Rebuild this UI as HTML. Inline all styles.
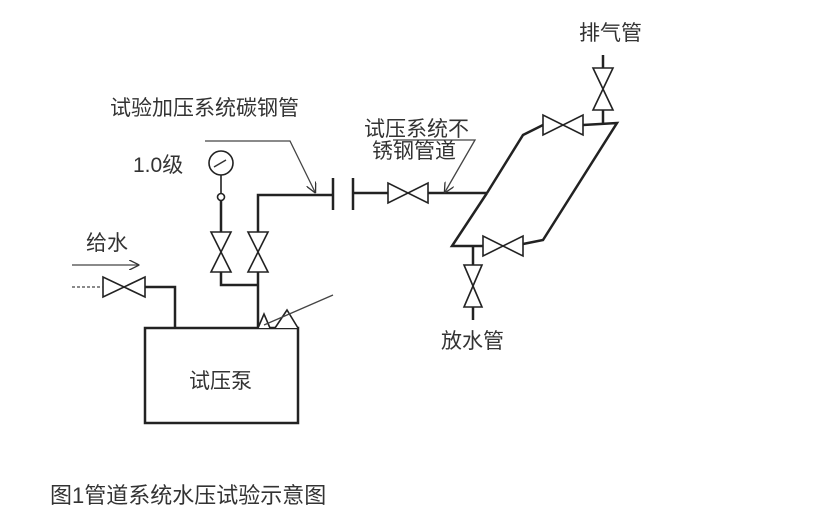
<!DOCTYPE html>
<html><head><meta charset="utf-8"><style>
body{margin:0;background:#fff;}
svg text{font-family:"Liberation Sans","Noto Sans CJK SC",sans-serif;fill:#333;}
</style></head><body>
<svg width="825" height="523" viewBox="0 0 825 523" xmlns="http://www.w3.org/2000/svg">
<defs>
<marker id="ar" markerWidth="8" markerHeight="8" refX="7" refY="4" orient="auto"><path d="M0,0 L8,4 L0,8" fill="none" stroke="#333" stroke-width="1"/></marker>
</defs>
<g fill="none" stroke="#222" stroke-width="2.5">
<rect x="145" y="328" width="153" height="95"/>
<polyline points="145,287 175,287 175,328"/>
<polyline points="258,328 258,272"/>
<polyline points="258,232 258,195 333,195"/>
<polyline points="221,272 221,285 258,285"/>
<line x1="221" y1="232" x2="221" y2="201"/>
<line x1="333" y1="178" x2="333" y2="210"/>
<line x1="353" y1="178" x2="353" y2="210"/>
<polyline points="353,193 388,193"/>
<polyline points="428,193 487,193"/>
<polyline points="487,193 523,135 543,125"/>
<polyline points="487,193 452,246 483,246"/>
<polyline points="523,244 543,240 617,123 583,125"/>
<line x1="603" y1="123" x2="603" y2="110"/>
<line x1="603" y1="68" x2="603" y2="55"/>
<line x1="473" y1="246" x2="473" y2="265"/>
<line x1="473" y1="307" x2="473" y2="320"/>
</g>
<line x1="221" y1="175" x2="221" y2="193" stroke="#222" stroke-width="1.6"/>
<g fill="#fff" stroke="#222" stroke-width="1.6">
<path d="M211,232 L231,232 L211,272 L231,272 Z"/>
<path d="M248,232 L268,232 L248,272 L268,272 Z"/>
<path d="M593,68 L613,68 L593,110 L613,110 Z"/>
<path d="M464,265 L482,265 L464,307 L482,307 Z"/>
<path d="M103,277 L103,297 L145,277 L145,297 Z"/>
<path d="M388,183 L388,203 L428,183 L428,203 Z"/>
<path d="M483,236 L483,256 L523,236 L523,256 Z"/>
<path d="M543,115 L543,135 L583,115 L583,135 Z"/>
<circle cx="221" cy="163" r="12"/>
<circle cx="221" cy="197" r="3.5"/>
<path d="M258,328 L264,314 L270,328"/>
<path d="M275,328 L287,310 L298,328"/>
</g>
<line x1="214" y1="167" x2="226" y2="160" stroke="#333" stroke-width="1.5"/>
<g stroke="#444" stroke-width="1.3" fill="none">
<line x1="264" y1="325" x2="333" y2="295"/>
<polyline points="205,141 290,141 315,192" marker-end="url(#ar)"/>
<line x1="72" y1="265" x2="138" y2="265" marker-end="url(#ar)"/>
<line x1="72" y1="287" x2="103" y2="287" stroke-dasharray="3,2"/>
<polyline points="393,140 475,140 445,192" marker-end="url(#ar)"/>
</g>
<g font-size="21">
<text x="110" y="115">试验加压系统碳钢管</text>
<text x="133" y="172">1.0级</text>
<text x="86" y="250">给水</text>
<text x="189" y="388">试压泵</text>
<text x="364" y="136">试压系统不</text>
<text x="372" y="158">锈钢管道</text>
<text x="579" y="40">排气管</text>
<text x="441" y="348">放水管</text>
<text x="50" y="503" font-size="22">图1管道系统水压试验示意图</text>
</g>
</svg>
</body></html>
